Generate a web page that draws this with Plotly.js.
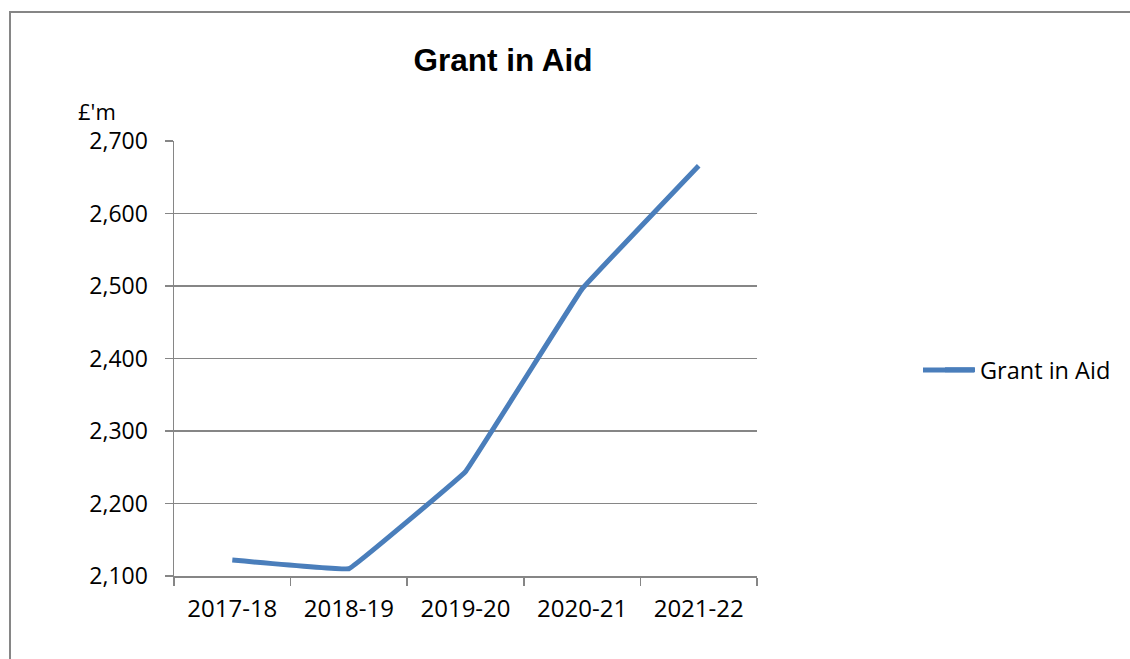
<!DOCTYPE html>
<html>
<head>
<meta charset="utf-8">
<script src="https://cdn.plot.ly/plotly-3.0.1.min.js"></script>
<style>
  html, body { margin: 0; padding: 0; background: #ffffff; overflow: hidden; }
  #frame { position: absolute; left: 9px; top: 11px; width: 1200px; height: 700px;
           border-left: 2px solid #868686; border-top: 2px solid #868686; }
  #chart { position: absolute; left: 0; top: 0; width: 1130px; height: 659px; }
</style>
</head>
<body>
<div id="frame"></div>
<div id="chart"></div>
<script>
const categories = ["2017-18", "2018-19", "2019-20", "2020-21", "2021-22"];
const grantInAid = [2122, 2110, 2244, 2496, 2666];
const seriesName = "Grant in Aid";
const chartTitle = "Grant in Aid";
const unitLabel = "£'m";

const FONT = "Open Sans, Noto Sans, sans-serif";
const xTickFont = { family: FONT, size: 24, color: "#000000" };
const yTickFont = { family: FONT, size: 23, color: "#000000" };
const BLUE = "#4a7ebb";

// plot-area geometry (pixels)
const L = 174, R = 757, T = 141, B = 576;
const PW = R - L, PH = B - T;

const trace = {
  type: "scatter",
  mode: "lines",
  x: categories,
  y: grantInAid,
  name: seriesName,
  line: { color: BLUE, width: 5, shape: "spline", smoothing: 0.12 },
  showlegend: true,
  hoverinfo: "x+y"
};

const legendY = (B - 370) / PH;

const layout = {
  width: 1130,
  height: 659,
  paper_bgcolor: "rgba(0,0,0,0)",
  plot_bgcolor: "rgba(0,0,0,0)",
  margin: { l: L, r: 1130 - R, t: T, b: 659 - B, pad: 0 },
  title: {
    text: "<b>" + chartTitle + "</b>",
    font: { family: "Liberation Sans, Arial, sans-serif", size: 31.5, color: "#000000" },
    x: 503 / 1130, xref: "container", xanchor: "center",
    y: 1 - 60 / 659, yref: "container", yanchor: "middle"
  },
  xaxis: {
    type: "category",
    range: [-0.5, 4.5],
    tickson: "boundaries",
    ticks: "outside",
    ticklen: 8,
    tickwidth: 1.5,
    tickcolor: "#868686",
    showgrid: false,
    showline: true,
    linecolor: "#868686",
    linewidth: 1.5,
    tickfont: xTickFont,
    ticklabelstandoff: 11,
    zeroline: false,
    fixedrange: true
  },
  yaxis: {
    range: [2100, 2700],
    dtick: 100,
    tick0: 2100,
    tickformat: ",d",
    ticks: "outside",
    ticklen: 8,
    tickwidth: 1.5,
    tickcolor: "#868686",
    showgrid: true,
    gridcolor: "#868686",
    gridwidth: 1.5,
    showline: true,
    linecolor: "#868686",
    linewidth: 1.5,
    tickfont: yTickFont,
    ticklabelstandoff: 12,
    zeroline: false,
    fixedrange: true
  },
  legend: {
    x: (940 - L) / PW,
    xanchor: "left",
    y: legendY,
    yanchor: "middle",
    font: { family: FONT, size: 23.5, color: "#000000" },
    bgcolor: "rgba(0,0,0,0)",
    itemwidth: 30
  },
  shapes: [{
    type: "line",
    xref: "paper", yref: "paper",
    x0: (923 - L) / PW, x1: (974 - L) / PW,
    y0: legendY, y1: legendY,
    line: { color: BLUE, width: 5 }
  }],
  annotations: [{
    text: unitLabel,
    xref: "paper", yref: "paper",
    x: (76 - L) / PW, xanchor: "left",
    y: (B - 111) / PH, yanchor: "middle",
    showarrow: false,
    font: { family: FONT, size: 22, color: "#000000" }
  }],
  showlegend: true
};

Plotly.newPlot("chart", [trace], layout, { displayModeBar: false, staticPlot: true });
</script>
</body>
</html>
